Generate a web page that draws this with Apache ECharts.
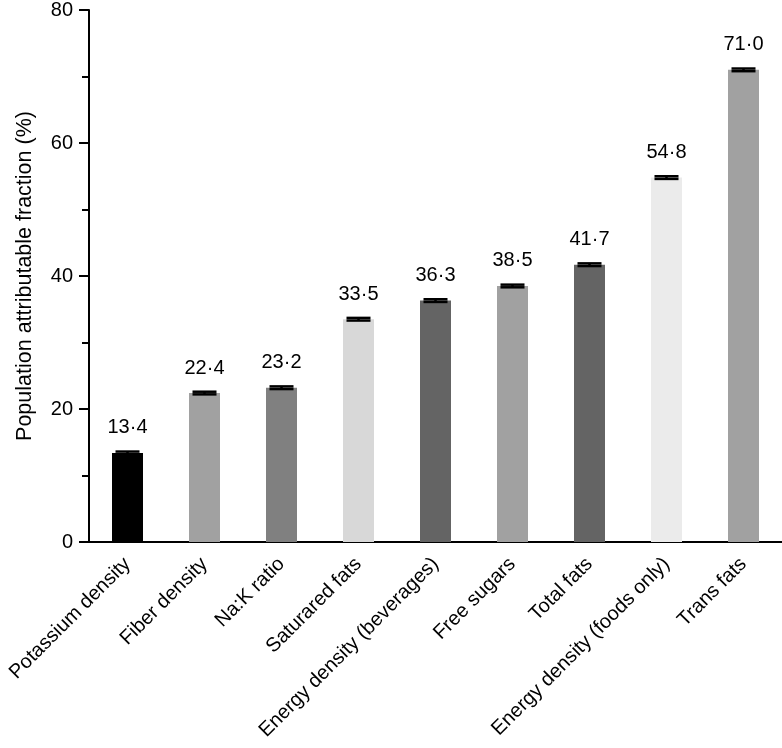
<!DOCTYPE html>
<html><head><meta charset="utf-8">
<script src="https://cdn.jsdelivr.net/npm/echarts@6/dist/echarts.min.js"></script>
<style>html,body{margin:0;padding:0;background:#fff}#c{width:782px;height:748px}</style>
</head><body><div id="c"></div>
<script>
var categories = ['Potassium density','Fiber density','Na:K ratio','Saturared fats','Energy density (beverages)','Free sugars','Total fats','Energy density (foods only)','Trans fats'];
var values = [13.4, 22.4, 23.2, 33.5, 36.3, 38.5, 41.7, 54.8, 71.0];
var errLow = [13.2, 22.2, 23.0, 33.3, 36.1, 38.3, 41.5, 54.6, 70.8];
var errHigh = [13.6, 22.6, 23.4, 33.7, 36.5, 38.7, 41.9, 55.0, 71.2];
var barColors = ['#000000','#a1a1a1','#808080','#d8d8d8','#646464','#a1a1a1','#646464','#ebebeb','#a1a1a1'];
var yTicks = [0, 20, 40, 60, 80];

var font = 'Liberation Sans, Arial, sans-serif';
var chart = echarts.init(document.getElementById('c'));
chart.setOption({
  animation: false,
  grid: {left: 89, right: 0, top: 10, bottom: 206},
  xAxis: {
    type: 'category', data: categories,
    axisLine: {lineStyle: {color: '#000', width: 2}},
    axisTick: {alignWithLabel: true, length: 10, lineStyle: {color: '#000', width: 2}},
    axisLabel: {rotate: 45, interval: 0, color: '#000', fontSize: 20, fontFamily: font, margin: 19}
  },
  yAxis: {
    type: 'value', min: 0, max: 80, interval: 20,
    name: 'Population attributable fraction (%)', nameLocation: 'middle', nameGap: 53,
    nameTextStyle: {color: '#000', fontSize: 21.5, fontFamily: font},
    axisLine: {show: true, lineStyle: {color: '#000', width: 2}},
    axisTick: {show: true, length: 10, lineStyle: {color: '#000', width: 2}},
    minorTick: {show: true, splitNumber: 2, length: 7, lineStyle: {color: '#000', width: 2}},
    splitLine: {show: false},
    axisLabel: {color: '#000', fontSize: 20, fontFamily: font, margin: 16,
      formatter: function(v){ return yTicks.indexOf(v) >= 0 ? String(v) : ''; }}
  },
  series: [{
    type: 'bar', barWidth: 31,
    data: values.map(function(v, i){ return {value: v, itemStyle: {color: barColors[i]}}; }),
    label: {show: true, position: 'top', distance: 15, color: '#000', fontSize: 20, fontFamily: font,
      formatter: function(p){ return p.value.toFixed(1).replace('.', '\u00b7'); }}
  }, {
    type: 'custom', z: 5,
    data: values.map(function(v, i){ return [i, errLow[i], errHigh[i]]; }),
    renderItem: function(params, api){
      var x = api.value(0);
      var lo = api.coord([x, api.value(1)]);
      var hi = api.coord([x, api.value(2)]);
      var hw = 12;
      var st = {stroke: '#000', lineWidth: 2.5};
      return {type: 'group', children: [
        {type: 'line', shape: {x1: hi[0], y1: hi[1], x2: lo[0], y2: lo[1]}, style: st},
        {type: 'line', shape: {x1: hi[0]-hw, y1: hi[1], x2: hi[0]+hw, y2: hi[1]}, style: st},
        {type: 'line', shape: {x1: lo[0]-hw, y1: lo[1], x2: lo[0]+hw, y2: lo[1]}, style: st}
      ]};
    }
  }]
});
</script></body></html>
